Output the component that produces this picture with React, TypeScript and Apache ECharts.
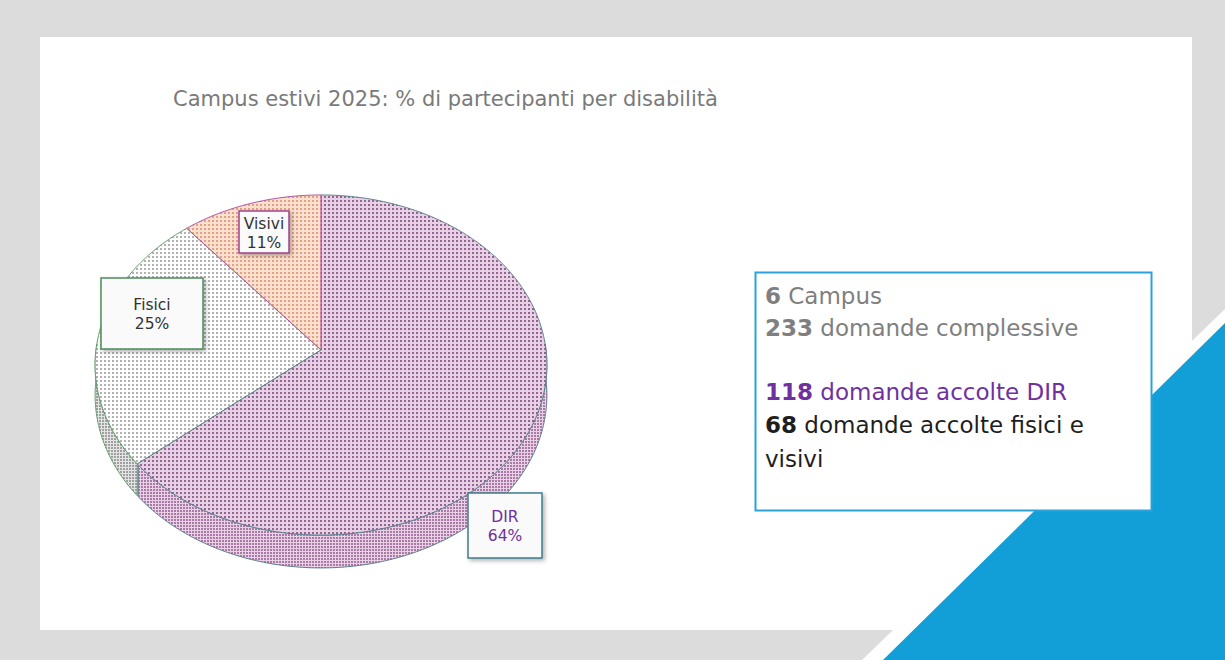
import React, { useEffect, useRef } from 'react';
import * as echarts from 'echarts';

// ---- Data ----
const categories = ['DIR', 'Fisici', 'Visivi'];
const values = [64, 25, 11];
const titleText = 'Campus estivi 2025: % di partecipanti per disabilità';
const infoNumbers = ['6', '233', '', '118', '68', ''];
const infoTexts = [' Campus', ' domande complessive', '', ' domande accolte DIR', ' domande accolte fisici e', 'visivi'];

// ---- Layout / style ----
const CX = 321;
const CY = 350;
const A = 225;
const B = 168.7;
const K = 0.0882;
const DEPTH = 30;
const FONT = '"DejaVu Sans", "Noto Sans", sans-serif';

const sliceStyle: Record<string, any> = {
  DIR: { bg: '#e9d1e5', dot: '#946592', sbg: '#ecd0e7', sdot: '#a67ba4', stroke: '#5d7e8e', z: 11, labelColor: '#7030a0',
    box: { x: 468, y: 493, w: 74, h: 65, stroke: '#3f7d8b' } },
  Fisici: { bg: '#ffffff', dot: '#b2b2b2', sbg: '#e4e4e4', sdot: '#a0a0a0', stroke: '#5f9a6b', z: 10, labelColor: '#333333',
    box: { x: 101, y: 278, w: 102, h: 71, stroke: '#4e8d5c' } },
  Visivi: { bg: '#fbe0cf', dot: '#e0a283', sbg: '#f0cdb8', sdot: '#c98d70', stroke: '#b0509c', z: 12, labelColor: '#333333',
    box: { x: 239, y: 211, w: 50, h: 42, stroke: '#a3418f' } },
};

function proj(theta: number, r = 1): [number, number, number] {
  const t = (theta * Math.PI) / 180;
  const u = r * Math.sin(t);
  const v = -r * Math.cos(t);
  const w = 1 - K * v;
  return [CX + (A * u) / w, CY + (B * v) / w, w];
}

function dotPattern(bg: string, dot: string, size: number, dotSize: number) {
  const c = document.createElement('canvas');
  c.width = size;
  c.height = size;
  const ctx = c.getContext('2d')!;
  ctx.fillStyle = bg;
  ctx.fillRect(0, 0, size, size);
  ctx.fillStyle = dot;
  ctx.fillRect(0, 0, dotSize, dotSize);
  return { image: c.toDataURL(), repeat: 'repeat', imageWidth: size, imageHeight: size };
}

export default function App() {
  const ref = useRef<HTMLDivElement>(null);

  useEffect(() => {
    document.body.style.margin = '0';
    if (!ref.current) return;
    const chart = echarts.init(ref.current, null, { renderer: 'svg' });

    const patterns: Record<string, any> = {};
    categories.forEach((c) => {
      const s = sliceStyle[c];
      patterns[c] = {
        top: dotPattern(s.bg, s.dot, 4, 2),
        side: dotPattern(s.sbg, s.sdot, 3, 2),
      };
    });

    const total = values.reduce((a, b) => a + b, 0);

    const renderItem = (params: any, api: any) => {
      const i = params.dataIndex;
      const cat = categories[i];
      const st = sliceStyle[cat];
      let start = 0;
      for (let j = 0; j < i; j++) start += values[j];
      const val = api.value(0);
      const t0 = (start / total) * 360;
      const t1 = ((start + val) / total) * 360;

      const children: any[] = [];

      // side wall (front half only)
      const s0 = Math.max(t0, 88);
      const s1 = Math.min(t1, 272);
      if (s1 > s0) {
        const topPts: number[][] = [];
        const botPts: number[][] = [];
        for (let t = s0; t <= s1 + 1e-6; t += 0.5) {
          const tt = Math.min(t, s1);
          const p = proj(tt);
          topPts.push([p[0], p[1]]);
          botPts.push([p[0], p[1] + DEPTH / p[2]]);
        }
        children.push({
          type: 'polygon',
          z2: 1,
          shape: { points: topPts.concat(botPts.reverse()) },
          style: { fill: patterns[cat].side, stroke: st.stroke, lineWidth: 1 },
        });
      }

      // top face
      const pts: number[][] = [[CX, CY]];
      for (let t = t0; t <= t1 + 1e-6; t += 0.5) {
        const p = proj(Math.min(t, t1));
        pts.push([p[0], p[1]]);
      }
      const pe = proj(t1);
      pts.push([pe[0], pe[1]]);
      children.push({
        type: 'polygon',
        z2: st.z,
        shape: { points: pts },
        style: { fill: patterns[cat].top, stroke: st.stroke, lineWidth: 1, lineJoin: 'round' },
      });

      // label box
      const bx = st.box;
      children.push({
        type: 'rect',
        z2: 50,
        shape: { x: bx.x, y: bx.y, width: bx.w, height: bx.h },
        style: {
          fill: '#f9faf9',
          stroke: bx.stroke,
          lineWidth: 1.5,
          shadowBlur: 4,
          shadowColor: 'rgba(0,0,0,0.3)',
          shadowOffsetX: 2,
          shadowOffsetY: 2,
        },
      });
      children.push({
        type: 'text',
        z2: 51,
        style: {
          text: `${cat}\n${val}%`,
          x: bx.x + bx.w / 2,
          y: bx.y + bx.h / 2 + 1,
          align: 'center',
          verticalAlign: 'middle',
          fontSize: 15.5,
          fontFamily: FONT,
          lineHeight: 19,
          fill: st.labelColor,
        },
      });

      return { type: 'group', children };
    };

    const infoColors = ['#7f7f7f', '#7f7f7f', '#7f7f7f', '#7030a0', '#1e1e1e', '#1e1e1e'];
    const infoY = [296, 328, 360, 392, 425, 459];
    const infoGraphics = infoTexts.map((t, i) => ({
      type: 'text',
      z: 4,
      x: 765,
      y: infoY[i],
      style: {
        text: infoNumbers[i] ? `{n|${infoNumbers[i]}}${t}` : t,
        rich: {
          n: {
            fontWeight: 'bold',
            fontSize: 23,
            fontFamily: FONT,
            fill: infoColors[i],
          },
        },
        fontSize: 23,
        fontFamily: FONT,
        fill: infoColors[i],
        verticalAlign: 'middle',
      },
    }));

    chart.setOption({
      animation: false,
      backgroundColor: '#dcdcdc',
      graphic: [
        { type: 'rect', z: 0, shape: { x: 40, y: 37, width: 1152, height: 593 }, style: { fill: '#ffffff' } },
        { type: 'polygon', z: 1, shape: { points: [[862, 660], [1225, 309], [1225, 660]] }, style: { fill: '#ffffff' } },
        { type: 'polygon', z: 2, shape: { points: [[883, 660], [1225, 323], [1225, 660]] }, style: { fill: '#129fd8' } },
        {
          type: 'rect',
          z: 3,
          shape: { x: 755.5, y: 272.5, width: 396, height: 238 },
          style: { fill: '#ffffff', stroke: '#2ba3da', lineWidth: 2 },
        },
        {
          type: 'text',
          z: 4,
          x: 173,
          y: 99,
          style: {
            text: titleText,
            fontSize: 21,
            fontFamily: FONT,
            fill: '#7a7a7a',
            verticalAlign: 'middle',
          },
        },
        ...infoGraphics,
      ],
      series: [
        {
          type: 'custom',
          coordinateSystem: 'none',
          z: 5,
          renderItem,
          data: values.map((v, i) => ({ name: categories[i], value: [v] })),
        },
      ],
    });

    return () => chart.dispose();
  }, []);

  return <div ref={ref} style={{ width: 1225, height: 660 }} />;
}
